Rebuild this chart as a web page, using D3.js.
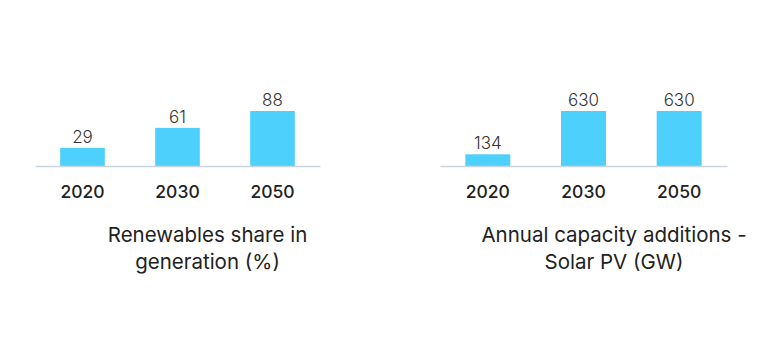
<!DOCTYPE html>
<html><head><meta charset="utf-8">
<script src="https://cdn.jsdelivr.net/npm/d3@7"></script>
<style>
html,body{margin:0;padding:0;background:#fff;}
svg{display:block;}
</style></head>
<body>
<svg id="c" width="784" height="355"></svg>
<script>
const years = ["2020", "2030", "2050"];
const renewablesShare = [29, 61, 88];
const solarAdditions = [134, 630, 630];
const titleLeft = ["Renewables share in", "generation (%)"];
const titleRight = ["Annual capacity additions -", "Solar PV (GW)"];

const svg = d3.select("#c");
const FONT = "Inter, 'Open Sans', sans-serif";

function panel(values, maxV, x0, x1, titleLines, titleX) {
  const baseY = 166;
  const x = d3.scaleBand().domain(years).range([x0, x1]).paddingInner(0.53).paddingOuter(0.265);
  const y = d3.scaleLinear().domain([0, maxV]).range([baseY, baseY - 55]);
  const g = svg.append("g");
  g.selectAll("rect").data(values).join("rect")
    .attr("x", (d, i) => x(years[i]))
    .attr("width", x.bandwidth())
    .attr("y", d => y(d))
    .attr("height", d => baseY - y(d))
    .attr("fill", "#4dd0fc");
  g.selectAll("text.v").data(values).join("text").attr("class", "v")
    .attr("x", (d, i) => x(years[i]) + x.bandwidth() / 2)
    .attr("y", d => y(d) - 5)
    .attr("text-anchor", "middle")
    .attr("font-family", FONT).attr("font-size", 17).attr("font-weight", 300)
    .attr("fill", "#333")
    .text(d => d);
  const ax = g.append("g").attr("transform", `translate(0,${baseY})`)
    .call(d3.axisBottom(x).tickSize(0).tickPadding(19.5));
  ax.select(".domain").attr("stroke", "#c9d4de").attr("stroke-width", 1.3);
  ax.selectAll("text").attr("font-family", FONT).attr("font-size", 17.5)
    .attr("font-weight", 500).attr("fill", "#222");
  g.append("text").attr("x", titleX).attr("y", 241.5)
    .attr("text-anchor", "middle").attr("font-family", FONT)
    .attr("font-size", 20.5).attr("fill", "#222")
    .selectAll("tspan").data(titleLines).join("tspan")
    .attr("x", titleX).attr("dy", (d, i) => i ? 27 : 0).text(d => d);
}

panel(renewablesShare, 88, 35, 320, titleLeft, 207.5);
panel(solarAdditions, 630, 440, 727, titleRight, 614);
</script>
</body></html>
